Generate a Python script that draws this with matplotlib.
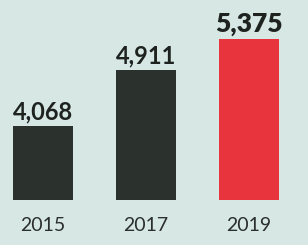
import matplotlib
matplotlib.use("Agg")
import matplotlib.pyplot as plt

years = ["2015", "2017", "2019"]
values = [4068, 4911, 5375]
colors = ["#2b312d", "#2b312d", "#e8343c"]
weights = ["bold", "bold", "heavy"]

plt.rcParams['font.family'] = ['Lato', 'DejaVu Sans']

fig = plt.figure(figsize=(3.08, 2.45), dpi=100)
fig.patch.set_facecolor("#d6e7e4")
ax = fig.add_axes([0, 45 / 245, 1, 200 / 245])
ax.set_facecolor("#d6e7e4")

x = range(len(years))
bars = ax.bar(x, values, width=0.59, color=colors, bottom=0)

for i, v in enumerate(values):
    ax.annotate(format(v, ","), (i, v), xytext=(0, 2), textcoords="offset points",
                ha="center", va="bottom", fontsize=17 if i < 2 else 19,
                fontweight=weights[i], color="#1e2320")

ax.set_xlim(-0.417, 2.573)
ax.set_ylim(2957, 5960)
ax.set_xticks(list(x))
ax.set_xticklabels(years, fontsize=14, color="#2a2e2c")
ax.tick_params(axis="x", length=0, pad=12)
ax.set_yticks([])
for s in ax.spines.values():
    s.set_visible(False)

fig.savefig("out.png", dpi=100, facecolor=fig.get_facecolor())
